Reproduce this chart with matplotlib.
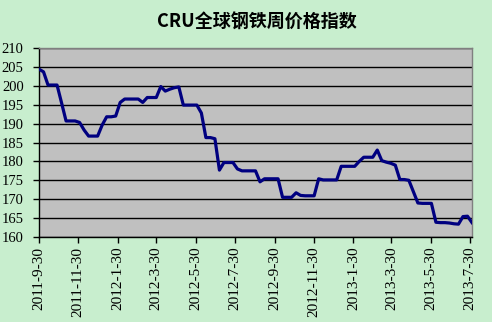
import datetime as dt
import matplotlib
matplotlib.use("Agg")
import matplotlib.pyplot as plt

# weekly CRU index, starting 2011-9-30
start_date = dt.date(2011, 9, 30)
index_values = [
    204.4, 203.7, 200.2, 200.2, 200.2, 195.5, 190.7, 190.7, 190.7, 190.3,
    188.3, 186.7, 186.7, 186.7, 189.6, 191.8, 191.8, 192.0, 195.6, 196.5,
    196.5, 196.5, 196.5, 195.6, 196.9, 196.9, 196.9, 199.8, 198.6, 199.1,
    199.5, 199.7, 194.9, 194.9, 194.9, 194.9, 192.8, 186.3, 186.3, 186.0,
    177.7, 179.7, 179.7, 179.7, 178.0, 177.5, 177.5, 177.5, 177.5, 174.6,
    175.4, 175.4, 175.4, 175.4, 170.5, 170.5, 170.5, 171.7, 171.0, 170.9,
    170.9, 170.9, 175.4, 175.1, 175.1, 175.1, 175.1, 178.7, 178.7, 178.7,
    178.7, 180.0, 181.1, 181.1, 181.1, 183.0, 180.2, 179.8, 179.5, 179.0,
    175.2, 175.2, 175.0, 172.0, 169.0, 168.9, 168.9, 168.9, 163.9, 163.8,
    163.8, 163.7, 163.5, 163.4, 165.4, 165.5, 163.8,
]
dates = [start_date + dt.timedelta(weeks=i) for i in range(len(index_values))]

tick_dates = [
    dt.date(2011, 9, 30), dt.date(2011, 11, 30), dt.date(2012, 1, 30),
    dt.date(2012, 3, 30), dt.date(2012, 5, 30), dt.date(2012, 7, 30),
    dt.date(2012, 9, 30), dt.date(2012, 11, 30), dt.date(2013, 1, 30),
    dt.date(2013, 3, 30), dt.date(2013, 5, 30), dt.date(2013, 7, 30),
]
tick_labels = [
    "2011-9-30", "2011-11-30", "2012-1-30", "2012-3-30", "2012-5-30",
    "2012-7-30", "2012-9-30", "2012-11-30", "2013-1-30", "2013-3-30",
    "2013-5-30", "2013-7-30",
]
y_ticks = [160, 165, 170, 175, 180, 185, 190, 195, 200, 205, 210]

bg = "#C8EECE"
fig = plt.figure(figsize=(4.92, 3.22), dpi=100, facecolor=bg)
ax = fig.add_axes([39 / 492, 1 - 237 / 322, 433 / 492, 189 / 322])
ax.set_facecolor("#C0C0C0")

ax.plot(dates, index_values, color="#000080", linewidth=2.3, zorder=3)

ax.set_ylim(160, 210)
ax.set_yticks(y_ticks)
ax.set_xlim(dates[0], dates[-1])
ax.set_xticks(tick_dates)
ax.set_xticklabels(tick_labels, rotation=90)
ax.yaxis.grid(True, color="black", linewidth=1)
ax.set_axisbelow(True)

for side in ["top", "right"]:
    ax.spines[side].set_color("#808080")
for side in ["left", "bottom"]:
    ax.spines[side].set_color("black")
for s in ax.spines.values():
    s.set_linewidth(1)

ax.tick_params(axis="both", direction="out", length=4, width=1, color="black",
               pad=3)
ax.tick_params(axis="y", pad=7)
for lbl in ax.get_xticklabels():
    lbl.set_fontfamily("Liberation Serif")
    lbl.set_fontsize(11)
for lbl in ax.get_yticklabels():
    lbl.set_fontfamily("Liberation Serif")
    lbl.set_fontsize(10.5)

fig.text(257 / 492, 1 - 22 / 322, "CRU全球钢铁周价格指数", ha="center", va="center",
         fontsize=13, fontweight="bold",
         family=["Noto Sans CJK SC", "DejaVu Sans"])

fig.savefig("out.png", dpi=100, facecolor=bg)
